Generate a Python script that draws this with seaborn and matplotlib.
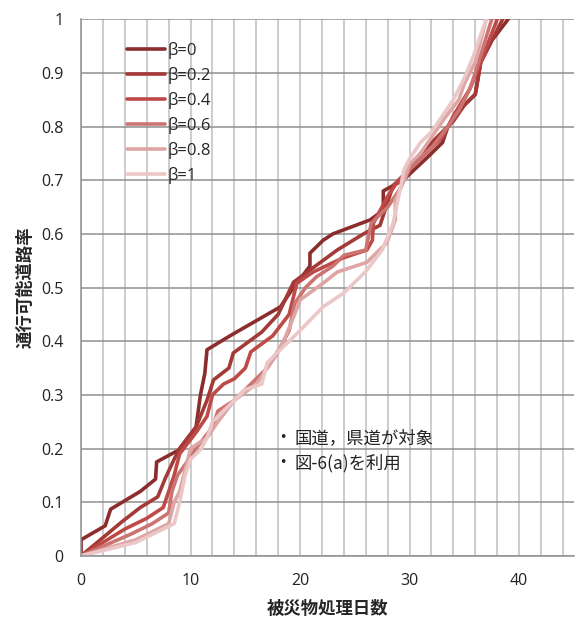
import matplotlib
matplotlib.use("Agg")
import matplotlib.pyplot as plt
import seaborn as sns
import pandas as pd
from matplotlib.ticker import MultipleLocator

labels = ["β=0", "β=0.2", "β=0.4", "β=0.6", "β=0.8", "β=1"]
colors = ["#8C2D2D", "#A33A37", "#BE4A48", "#CC7472", "#DDA5A3", "#EBC8C7"]

x_b0 = [0, 0, 2.2, 2.7, 5.4, 6.8, 6.9, 8.9, 10.5, 10.9, 11.3, 11.5, 13.6, 18.2, 19.4, 20.9, 20.9, 22.1, 23, 26.4, 27.6, 27.6, 29.4, 31.5, 33, 33.5, 35, 36, 36.5, 37.5, 39]
y_b0 = [0, 0.03, 0.056, 0.087, 0.12, 0.143, 0.175, 0.197, 0.24, 0.30, 0.34, 0.384, 0.41, 0.464, 0.50, 0.54, 0.564, 0.588, 0.60, 0.626, 0.644, 0.68, 0.70, 0.74, 0.77, 0.80, 0.84, 0.86, 0.92, 0.96, 1.0]

x_b2 = [0, 3.7, 5.4, 7, 7.7, 8.5, 9, 10.5, 11.5, 12.1, 13.5, 13.9, 16.5, 18, 19.4, 21.8, 23.4, 25.8, 27.3, 28.5, 30, 31, 32.5, 34, 35, 36, 36.5, 38.5]
y_b2 = [0, 0.063, 0.09, 0.11, 0.145, 0.18, 0.2, 0.24, 0.29, 0.328, 0.35, 0.378, 0.417, 0.45, 0.51, 0.546, 0.57, 0.60, 0.616, 0.69, 0.72, 0.75, 0.78, 0.81, 0.84, 0.86, 0.92, 1.0]

x_b4 = [0, 4, 6, 7.5, 8, 8.5, 9, 10.5, 11.5, 12, 13, 14, 15, 15.5, 17.5, 19, 19.7, 21.2, 23.9, 26.1, 26.6, 26.7, 28, 29, 30.5, 32, 33, 34, 35.5, 36.5, 38]
y_b4 = [0, 0.05, 0.07, 0.09, 0.12, 0.15, 0.19, 0.23, 0.26, 0.30, 0.32, 0.33, 0.35, 0.38, 0.41, 0.45, 0.508, 0.529, 0.555, 0.57, 0.588, 0.62, 0.67, 0.70, 0.73, 0.76, 0.78, 0.82, 0.87, 0.92, 1.0]

x_b6 = [0, 4.5, 6.5, 8, 8.3, 8.8, 9.5, 10.5, 12, 12.5, 14, 16, 17, 18, 19, 19.5, 20.5, 21.5, 23, 24, 26, 26.5, 28, 29, 30, 31, 32, 33.5, 34.5, 35.5, 36, 37.5]
y_b6 = [0, 0.04, 0.06, 0.08, 0.12, 0.15, 0.17, 0.20, 0.24, 0.27, 0.29, 0.33, 0.35, 0.38, 0.42, 0.47, 0.50, 0.52, 0.54, 0.56, 0.57, 0.62, 0.65, 0.68, 0.72, 0.74, 0.76, 0.80, 0.83, 0.87, 0.90, 1.0]

x_b8 = [0, 5, 7, 8, 8.5, 9, 9.5, 10, 11.5, 12.5, 14, 16, 17, 18.5, 19.5, 20, 22.1, 23.4, 26.1, 27.9, 28.7, 28.7, 29.5, 30, 31, 32, 33, 34.5, 35, 36, 37]
y_b8 = [0, 0.03, 0.05, 0.06, 0.10, 0.12, 0.16, 0.20, 0.22, 0.25, 0.29, 0.32, 0.35, 0.40, 0.45, 0.477, 0.508, 0.529, 0.547, 0.583, 0.626, 0.663, 0.70, 0.73, 0.75, 0.78, 0.81, 0.85, 0.88, 0.92, 1.0]

x_b10 = [0, 5, 7, 8.5, 9, 9.5, 10, 11, 11.5, 12, 13.5, 15, 16.5, 17, 18, 20, 22.1, 24, 26, 27.5, 28.5, 29, 29.5, 30, 31, 32, 33, 34, 35, 35.8, 37]
y_b10 = [0, 0.025, 0.045, 0.06, 0.10, 0.15, 0.18, 0.20, 0.22, 0.25, 0.28, 0.31, 0.32, 0.36, 0.38, 0.42, 0.464, 0.49, 0.53, 0.57, 0.62, 0.67, 0.72, 0.74, 0.77, 0.79, 0.82, 0.85, 0.89, 0.93, 1.0]

xs = [x_b0, x_b2, x_b4, x_b6, x_b8, x_b10]
ys = [y_b0, y_b2, y_b4, y_b6, y_b8, y_b10]

rows = []
for lab, xx, yy in zip(labels, xs, ys):
    for i, (a, b) in enumerate(zip(xx, yy)):
        rows.append({"series": lab, "order": i, "x": a, "y": b})
df = pd.DataFrame(rows)

sns.set_style("white")
plt.rcParams["font.family"] = ["Open Sans", "DejaVu Sans"]

fig = plt.figure(figsize=(5.75, 6.19), dpi=100)
ax = fig.add_axes([0.141, 0.102, 0.857, 0.867])

sns.lineplot(data=df, x="x", y="y", hue="series", hue_order=labels,
             palette=colors, sort=False, estimator=None, units="series",
             linewidth=2.6, ax=ax, legend=False)

ax.set_xlim(0, 45)
ax.set_ylim(0, 1)
ax.xaxis.set_major_locator(MultipleLocator(10))
ax.xaxis.set_minor_locator(MultipleLocator(2))
yt = [round(0.1 * i, 1) for i in range(11)]
ax.set_yticks(yt)
ax.set_yticklabels(["0" if v == 0 else ("1" if v == 1 else f"{v:.1f}") for v in yt])
ax.grid(which="minor", axis="x", color="#c8c8c8", linewidth=1.3)
ax.grid(which="major", axis="x", color="#c8c8c8", linewidth=1.3)
ax.grid(which="major", axis="y", color="#8f8f8f", linewidth=1.1)
ax.set_axisbelow(True)
for s in ["top", "right"]:
    ax.spines[s].set_visible(False)
for s in ["left", "bottom"]:
    ax.spines[s].set_color("#8f8f8f")
    ax.spines[s].set_linewidth(1.1)
ax.tick_params(axis="both", which="major", direction="out", length=4, width=1,
               color="#8f8f8f", labelsize=11.5, labelcolor="#222222", pad=8.5)
ax.tick_params(axis="x", which="minor", length=0)

cjk = ["Noto Sans CJK JP", "DejaVu Sans"]
ax.set_xlabel("被災物処理日数", family=cjk, fontsize=12.5, fontweight="bold", labelpad=8)
ax.set_ylabel("通行可能道路率", family=cjk, fontsize=12.5, fontweight="bold", labelpad=5)

handles = ax.get_lines()[:6]
leg = ax.legend(handles, labels, loc="upper left", bbox_to_anchor=(0.08, 0.97),
                frameon=False, fontsize=12, handlelength=2.3, handletextpad=0.15,
                labelspacing=0.48, borderaxespad=0)

ax.text(18.45, 0.22, "・", family=cjk, fontsize=12.5, color="#222222", va="center", ha="center")
ax.text(19.5, 0.22, "国道，県道が対象", family=cjk, fontsize=12.5, color="#222222", va="center")
ax.text(18.45, 0.173, "・", family=cjk, fontsize=12.5, color="#222222", va="center", ha="center")
ax.text(19.5, 0.173, "図-6(a)を利用", family=cjk, fontsize=12.5, color="#222222", va="center")

fig.savefig("out.png", dpi=100)
